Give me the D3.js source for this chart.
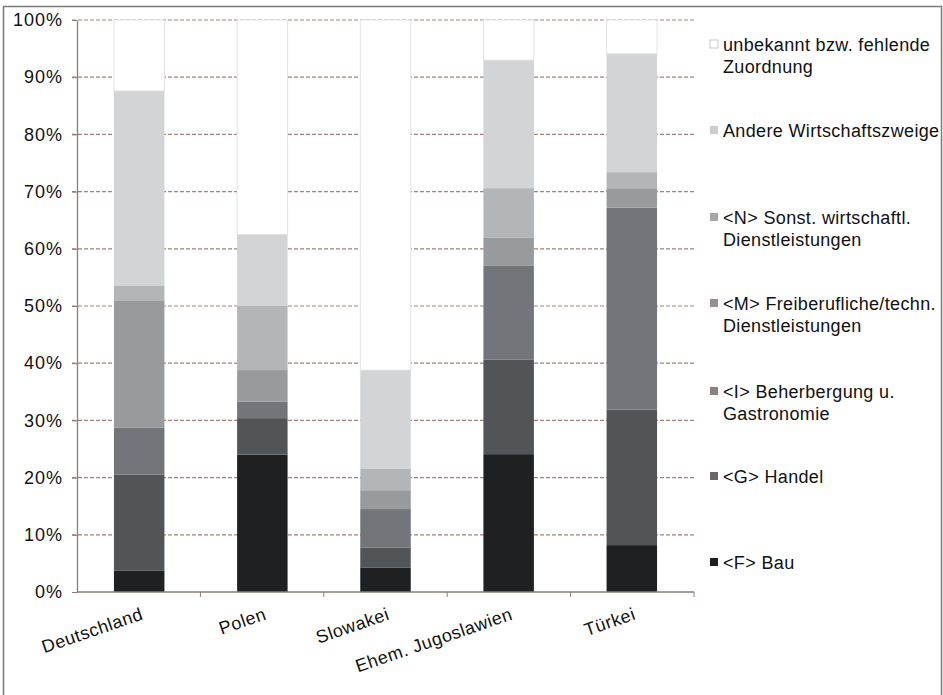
<!DOCTYPE html>
<html>
<head>
<meta charset="utf-8">
<script src="https://cdn.jsdelivr.net/npm/d3@7"></script>
<style>
  html, body { margin: 0; padding: 0; background: #fff; }
  svg { display: block; font-family: "Liberation Sans", Arial, sans-serif; }
</style>
</head>
<body>
<svg id="chart" width="943" height="695"></svg>
<script>
// ---- data ----
const categories = ["Deutschland", "Polen", "Slowakei", "Ehem. Jugoslawien", "Türkei"];
const seriesNames = ["<F> Bau", "<G> Handel", "<I> Beherbergung u. Gastronomie",
  "<M> Freiberufliche/techn. Dienstleistungen", "<N> Sonst. wirtschaftl. Dienstleistungen",
  "Andere Wirtschaftszweige", "unbekannt bzw. fehlende Zuordnung"];
const bau         = [3.7, 24.0, 4.3, 24.1, 8.2];
const handel      = [16.8, 6.4, 3.5, 16.5, 23.7];
const beherbergung= [8.2, 2.9, 6.7, 16.5, 35.3];
const freiberuf   = [22.3, 5.5, 3.3, 4.9, 3.4];
const sonstDienst = [2.6, 11.2, 3.8, 8.6, 2.8];
const andere      = [34.0, 12.5, 17.2, 22.4, 20.7];
const unbekannt   = [12.4, 37.5, 61.2, 7.0, 5.9];
const yTicks = [0, 10, 20, 30, 40, 50, 60, 70, 80, 90, 100];
const legendLines = [
  ["unbekannt bzw. fehlende", "Zuordnung"],
  ["Andere Wirtschaftszweige"],
  ["<N> Sonst. wirtschaftl.", "Dienstleistungen"],
  ["<M> Freiberufliche/techn.", "Dienstleistungen"],
  ["<I> Beherbergung u.", "Gastronomie"],
  ["<G> Handel"],
  ["<F> Bau"]
];

// ---- styles / layout ----
const seriesColors = ["#1f2022", "#525558", "#727579", "#989b9e", "#b3b6b9", "#d2d4d6", "#ffffff"];
const legendMarkerColors = ["#ffffff", "#cfcccc", "#aaa5a5", "#958f8f", "#8a8080", "#6e6767", "#1e1e1e"];
const legendY = [45, 131, 218, 304, 392, 477, 563];
const plot = { left: 77, right: 694, top: 20, bottom: 592 };

const seriesValues = [bau, handel, beherbergung, freiberuf, sonstDienst, andere, unbekannt];
const table = categories.map((c, i) => {
  const row = { cat: c };
  seriesNames.forEach((s, k) => row[s] = seriesValues[k][i]);
  return row;
});
const stacked = d3.stack().keys(seriesNames)(table);

const svg = d3.select("#chart");

// frame
svg.append("rect").attr("x", 3.5).attr("y", 6.5).attr("width", 938).attr("height", 720)
  .attr("fill", "none").attr("stroke", "#7a7a7a").attr("stroke-width", 1.5);

const x = d3.scaleBand().domain(categories).range([plot.left, plot.right]).paddingInner(0.59).paddingOuter(0.3);
const xOuter = d3.scaleBand().domain(categories).range([plot.left, plot.right]);
const y = d3.scaleLinear().domain([0, 100]).range([plot.bottom, plot.top]);

// gridlines
svg.append("g")
  .selectAll("line").data(yTicks.filter(t => t > 0)).join("line")
  .attr("x1", plot.left - 5).attr("x2", plot.right)
  .attr("y1", d => y(d)).attr("y2", d => y(d))
  .attr("stroke", "#a5817a").attr("stroke-width", 1.2)
  .attr("stroke-dasharray", "4,2");

// bars
svg.append("g").selectAll("g").data(stacked).join("g")
  .attr("fill", (d, i) => seriesColors[i])
  .attr("stroke", (d, i) => i === 6 ? "#e2e2e2" : "none")
  .selectAll("rect").data(d => d).join("rect")
  .attr("x", d => x(d.data.cat))
  .attr("width", x.bandwidth())
  .attr("y", d => y(d[1]))
  .attr("height", d => y(d[0]) - y(d[1]));

// y axis
const yAxis = d3.axisLeft(y).tickValues(yTicks).tickFormat(d => d + "%").tickSize(5).tickSizeOuter(0).tickPadding(9);
const gy = svg.append("g").attr("transform", `translate(${plot.left},0)`).call(yAxis);
gy.select(".domain").attr("stroke", "#8c7c78").attr("stroke-width", 1.3);
gy.selectAll(".tick line").attr("stroke", "#8c7c78");
gy.selectAll(".tick text").attr("font-size", 18).attr("fill", "#111")
  .attr("font-family", "Liberation Sans, Arial, sans-serif").attr("letter-spacing", 1);

// x axis
const gx = svg.append("g").attr("transform", `translate(0,${plot.bottom})`);
gx.append("line").attr("x1", plot.left).attr("x2", plot.right).attr("y1", 0).attr("y2", 0)
  .attr("stroke", "#8c7c78").attr("stroke-width", 1.3);
gx.selectAll("line.tk").data(categories).join("line").attr("class", "tk")
  .attr("x1", d => xOuter(d) + xOuter.bandwidth()).attr("x2", d => xOuter(d) + xOuter.bandwidth())
  .attr("y1", 0).attr("y2", 5).attr("stroke", "#8c7c78");
gx.selectAll("text").data(categories).join("text")
  .attr("transform", d => `translate(${x(d) + x.bandwidth() / 2 + 5},${27}) rotate(-19)`)
  .attr("text-anchor", "end")
  .attr("font-size", 18).attr("letter-spacing", 0.5).attr("fill", "#111")
  .text(d => d);

// legend
const lg = svg.append("g");
legendLines.forEach((lines, i) => {
  const yy = legendY[i];
  lg.append("rect").attr("x", 710).attr("y", yy - 5).attr("width", 8).attr("height", 8)
    .attr("fill", legendMarkerColors[i])
    .attr("stroke", i === 0 ? "#c8c8c8" : "none");
  lines.forEach((t, j) => {
    lg.append("text").attr("x", 723).attr("y", yy + j * 22).attr("dy", "0.35em")
      .attr("font-size", 18).attr("fill", "#111").attr("letter-spacing", 0.35)
      .text(t);
  });
});
</script>
</body>
</html>
